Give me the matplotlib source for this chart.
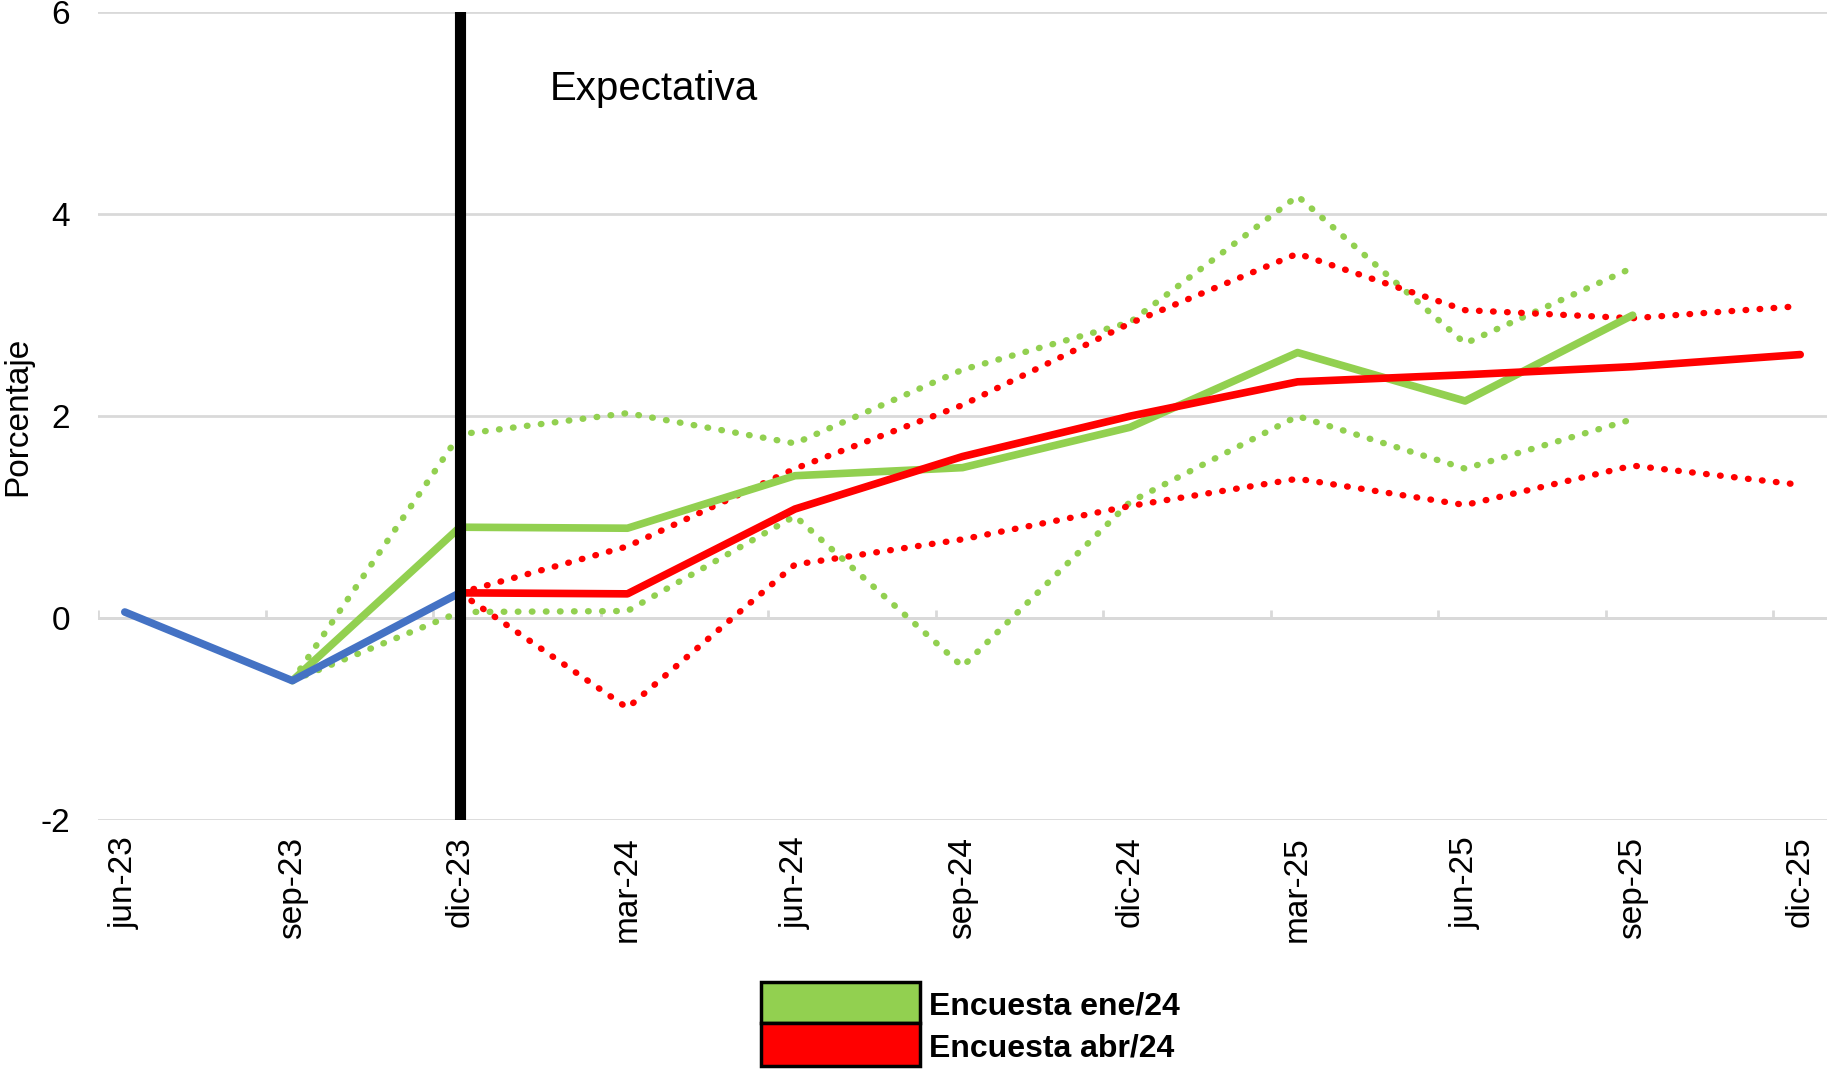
import matplotlib
matplotlib.use("Agg")
import matplotlib.pyplot as plt
from matplotlib.patches import Rectangle
import numpy as np

plt.rcParams['font.family'] = ['Liberation Sans', 'DejaVu Sans']

categories = ["jun-23", "sep-23", "dic-23", "mar-24", "jun-24", "sep-24",
              "dic-24", "mar-25", "jun-25", "sep-25", "dic-25"]

observed = [0.06, -0.62, 0.25]

ene_central = [None, -0.62, 0.90, 0.89, 1.41, 1.49, 1.89, 2.63, 2.15, 3.00, None]
ene_upper   = [None, -0.62, 1.82, 2.03, 1.73, 2.46, 2.93, 4.18, 2.72, 3.47, None]
ene_lower   = [None, -0.62, 0.06, 0.07, 1.01, -0.48, 1.15, 2.00, 1.48, 1.97, None]

abr_central = [None, None, 0.25, 0.24, 1.08, 1.60, 2.00, 2.34, 2.41, 2.49, 2.61]
abr_upper   = [None, None, 0.25, 0.71, 1.48, 2.11, 2.92, 3.61, 3.05, 2.97, 3.09]
abr_lower   = [None, None, 0.25, -0.89, 0.53, 0.78, 1.11, 1.38, 1.12, 1.51, 1.32]

legend_labels = ["Encuesta ene/24", "Encuesta abr/24"]
expectation_label = "Expectativa"
y_label = "Porcentaje"
y_ticks = [-2, 0, 2, 4, 6]

GREEN = "#92D050"
RED = "#FF0000"
BLUE = "#4472C4"
GRID = "#D9D9D9"


def series(vals):
    x = np.arange(len(vals), dtype=float)
    y = np.array([np.nan if v is None else v for v in vals], dtype=float)
    return x, y


fig = plt.figure(figsize=(18.27, 10.71), dpi=100)
ax = fig.add_axes([98 / 1827, 1 - 820 / 1071, 1 - 98 / 1827, (820 - 12.3) / 1071])

n = len(categories)
ax.set_xlim(-0.16, n - 1 + 0.16)
ax.set_ylim(-2, 6)

for s in ax.spines.values():
    s.set_visible(False)

ax.set_yticks(y_ticks)
ax.set_yticklabels([str(t) for t in y_ticks])
ax.yaxis.grid(True, color=GRID, linewidth=2)
ax.set_axisbelow(True)
ax.tick_params(axis='y', length=0, pad=20, labelsize=24)

ax.set_xticks(np.arange(n))
ax.set_xticklabels(categories, rotation=90, fontsize=24)
ax.tick_params(axis='x', length=0, pad=12)

# axis line at zero with upward tick marks at category boundaries
ax.axhline(0, color=GRID, linewidth=2, zorder=1)
bounds = np.arange(n) - 0.16
ax.vlines(bounds, 0, 0.08, color=GRID, linewidth=2, zorder=1)

dot = dict(linestyle=(0, (0.1, 2.1)), dash_capstyle='round', linewidth=4.6)

x, y = series(ene_upper)
ax.plot(x, y, color=GREEN, zorder=3, **dot)
x, y = series(ene_lower)
ax.plot(x, y, color=GREEN, zorder=3, **dot)
x, y = series(abr_upper)
ax.plot(x, y, color=RED, zorder=3, **dot)
x, y = series(abr_lower)
ax.plot(x, y, color=RED, zorder=3, **dot)

x, y = series(ene_central)
ax.plot(x, y, color=GREEN, linewidth=5.5, solid_capstyle='round', zorder=4)
x, y = series(abr_central)
ax.plot(x, y, color=RED, linewidth=5.5, solid_capstyle='round', zorder=4)

ax.plot(np.arange(len(observed)), observed, color=BLUE, linewidth=5.5,
        solid_capstyle='round', zorder=5)

# vertical separator at the last observed point
ax.axvline(len(observed) - 1, color="black", linewidth=8, zorder=6)

ax.text(0.2614, 0.905, expectation_label, transform=ax.transAxes,
        fontsize=29, va='center', ha='left')

fig.text(18 / 1827, 1 - 416 / 1071, y_label, rotation=90, fontsize=24,
         va='center', ha='center')

# legend boxes
bx, bw = 761 / 1827, 159 / 1827
boxes = [(1 - 1023 / 1071, 41 / 1071, GREEN), (1 - 1066 / 1071, 43 / 1071, RED)]
for (by, bh, col), lab in zip(boxes, legend_labels):
    fig.add_artist(Rectangle((bx, by), bw, bh, transform=fig.transFigure,
                             facecolor=col, edgecolor='black', linewidth=2.5))
    fig.text(929 / 1827, by + bh / 2 - 4 / 1071, lab, fontsize=23,
             fontweight='bold', va='center', ha='left')

fig.savefig("out.png", dpi=100)
